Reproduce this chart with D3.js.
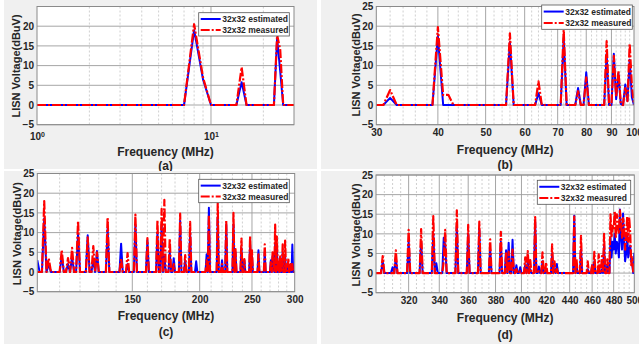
<!DOCTYPE html>
<html>
<head>
<meta charset="utf-8">
<script src="https://cdn.jsdelivr.net/npm/d3@7"></script>
<style>
  html, body { margin: 0; padding: 0; background: #fff; }
  svg text { font-family: "Liberation Sans", Arial, sans-serif; font-weight: bold; }
</style>
</head>
<body>
<svg id="fig" width="639" height="344"></svg>
<script>
// ---- data (MHz, dBuV); all other integer MHz points sit at 0 ----
const seriesNames = ['32x32 estimated', '32x32 measured'];
const yTicks = [-5, 0, 5, 10, 15, 20, 25];

// (a) 1-30 MHz
const aFreq = [8, 9, 15, 24, 25];
const aEst  = [19, 6.5, 5.8, 17, 8.5];
const aMeas = [20.5, 7, 9.6, 17.8, 14];
const aTicks = [1, 10];
const aMajor = [10];
const aMinor = [2, 3, 4, 5, 6, 7, 8, 9, 20];

// (b) 30-100 MHz
const bFreq = [32, 40, 41, 42, 56, 64, 72, 77, 80, 88, 91, 92, 93, 94, 96, 97, 98, 99];
const bEst  = [1.8, 17.5, 0, 0, 16, 3, 17, 4.3, 8.3, 13, 13, 1.5, 8, 0.3, 5.2, 1, 11.5, 2];
const bMeas = [3.8, 19.8, 2.5, 2.6, 18.2, 6, 19, 3.5, 7, 16.2, 12.5, 2, 8.7, 0.3, 4.3, 1, 15.6, 5];
const bTicks = [30, 40, 50, 60, 70, 80, 90, 100];
const bMajor = [40, 50, 60, 70, 80, 90];
const bMinor = [32, 34, 36, 38, 42, 44, 46, 48, 52, 54, 56, 58, 62, 64, 66, 68,
                72, 74, 76, 78, 82, 84, 86, 88, 92, 94, 96, 98];

// (c) 100-300 MHz
const cFreq = [100, 103, 105, 111, 114, 116, 119, 124, 127, 129, 135, 143, 147, 152, 160, 167, 170,
               172, 176, 179, 184, 188, 192, 197, 206, 208, 216, 220, 224, 231, 233, 239, 242, 248,
               250, 257, 264, 271, 273, 274, 276, 278, 280, 282, 285, 288, 292, 295, 297];
const cEst  = [3, 13.6, 2, 4, 2, 3.8, 9.5, 9.3, 3, 5.3, 11, 7.2, 2, 12, 8, 10, 12,
               4, 5, 3.5, 13, 3, 10, 2.7, 4.5, 16.3, 14, 3, 12, 12, 5, 6, 3, 7,
               4, 5.5, 5, 3, 4, 2, 7, 6, 2, 3.5, 5, 4, 2, 2, 7];
const cMeas = [0, 18, 3.5, 5.6, 3.5, 6.1, 13, 8.8, 6.6, 5, 13.8, 3.5, 4.8, 14.6, 8.6, 13.2, 16,
               18.3, 8.5, 2, 14.8, 4.3, 12.7, 0, 3, 14.5, 17.5, 2, 13, 15, 5.8, 8.5, 3.3, 9,
               5.5, 4.5, 7, 2.5, 5, 3, 12, 9, 3, 4, 7, 8, 3.5, 2, 2];
const cTicks = [150, 200, 250, 300];
const cMajor = [150, 200, 250];
const cMinor = [110, 120, 130, 140, 160, 170, 180, 190, 210, 220, 230, 240, 260, 270, 280, 290];

// (d) 300-500 MHz
const dFreq = [304, 310, 312, 320, 328, 336, 338, 343, 344, 352, 360, 368, 376, 384, 388, 390, 393,
               396, 399, 403, 405, 407, 411, 414, 417, 420, 425, 427, 429, 444, 446, 450, 456, 460,
               462, 466, 469, 471, 474, 477, 478, 479, 480, 481, 482, 483, 484, 485, 486, 487, 488,
               489, 490, 491, 492, 493, 494, 495, 496, 497, 498, 500];
const dEst  = [3, 1.5, 4, 8, 8, 10, 2.5, 9, 7, 12, 10, 11, 6, 8, 5.8, 7.7, 8.5,
               2, 1.5, 2, 3, 1, 13, 1.7, 3, 1, 5, 1, 2.3, 14.6, 2, 6, 1, 2,
               3, 1.5, 1, 7, 2, 9, 4, 8, 6, 10, 5, 8, 7, 4, 16.2, 9, 6,
               15.2, 8, 3, 5, 10, 4, 6, 7, 3, 2, 5.2];
const dMeas = [4.3, 0, 5.8, 11, 11.2, 14.5, 0, 3, 11, 16, 12.3, 13.1, 8.6, 10.5, 5, 5.5, 6,
               1, 0.5, 4, 5.6, 3.3, 14.3, 0.5, 5.3, 2.7, 7.3, 3, 1, 14.4, 3.5, 9.5, 3, 2,
               5.4, 4.8, 4.3, 10, 3.5, 15, 9, 12, 11, 15.8, 9, 15, 12, 10, 16, 13, 9,
               14, 12, 6, 9, 14.3, 8, 14.2, 10, 2, 4, 0];
const dTicks = [320, 340, 360, 380, 400, 420, 440, 460, 480, 500];
const dMajor = [320, 340, 360, 380, 400, 420, 440, 460, 480];
const dMinor = [305, 310, 315, 325, 330, 335, 345, 350, 355, 365, 370, 375, 385, 390, 395,
                405, 410, 415, 425, 430, 435, 445, 450, 455, 465, 470, 475, 485, 490, 495];

// ---- layout ----
const panels = [
  { cap: '(a)', span: [1, 30], freq: aFreq, est: aEst, meas: aMeas, ticks: aTicks, major: aMajor, minor: aMinor,
    yt: [-5, 0, 5, 10, 15, 20], pow: true,
    bg: [4, 0, 313, 169], xr: [37, 294], yr: [124.7, 6.5], leg: [198.7, 12.7, 90.6, 23.3],
    yTitle: [16, 66], xTitle: 152, capY: 166 },
  { cap: '(b)', span: [30, 100], freq: bFreq, est: bEst, meas: bMeas, ticks: bTicks, major: bMajor, minor: bMinor,
    yt: yTicks, pow: false,
    bg: [321, 0, 318, 169], xr: [376.3, 634], yr: [124.7, 6.5], leg: [541.7, 5, 90.6, 24.3],
    yTitle: [356.5, 65], xTitle: 150, capY: 164.5 },
  { cap: '(c)', span: [100, 300], freq: cFreq, est: cEst, meas: cMeas, ticks: cTicks, major: cMajor, minor: cMinor,
    yt: yTicks, pow: false,
    bg: [4, 171, 313, 173], xr: [37.3, 294.7], yr: [291.7, 173.5], leg: [198.7, 179.3, 90.6, 23.4],
    yTitle: [17.5, 233.7], xTitle: 316, capY: 332 },
  { cap: '(d)', span: [300, 500], freq: dFreq, est: dEst, meas: dMeas, ticks: dTicks, major: dMajor, minor: dMinor,
    yt: yTicks, pow: false,
    bg: [321, 171, 318, 173], xr: [376, 634.3], yr: [292.7, 175], leg: [537.3, 180.3, 93.4, 24],
    yTitle: [356.5, 235], xTitle: 317.7, capY: 334.3 }
];

const TXT = '#262626';
const RED_DASH = '9,2,2,2';
const svg = d3.select('#fig');

// spectrum on a 1 MHz grid, zero where nothing was read
function spectrum(span, freq, vals) {
  const pts = [];
  for (let f = span[0]; f <= span[1]; f++) {
    const i = freq.indexOf(f);
    pts.push([f, i < 0 ? 0 : vals[i]]);
  }
  return pts;
}

panels.forEach((p, k) => {
  const g = svg.append('g');
  g.append('rect').attr('x', p.bg[0]).attr('y', p.bg[1]).attr('width', p.bg[2]).attr('height', p.bg[3])
    .attr('fill', '#f0f0f0');

  const x = d3.scaleLog().domain(p.span).range(p.xr);
  const y = d3.scaleLinear().domain([-5, 25]).range(p.yr);
  const top = p.yr[1], bot = p.yr[0], left = p.xr[0], right = p.xr[1];

  g.append('rect').attr('x', left).attr('y', top).attr('width', right - left).attr('height', bot - top)
    .attr('fill', '#fff');

  // grid
  g.selectAll(null).data(p.minor).join('line')
    .attr('x1', d => x(d)).attr('x2', d => x(d)).attr('y1', top).attr('y2', bot)
    .attr('stroke', '#c4c4c4').attr('stroke-width', 0.8).attr('stroke-dasharray', '2,2');
  g.selectAll(null).data(p.major).join('line')
    .attr('x1', d => x(d)).attr('x2', d => x(d)).attr('y1', top).attr('y2', bot)
    .attr('stroke', '#9c9c9c').attr('stroke-width', 0.9);
  g.selectAll(null).data(yTicks).join('line')
    .attr('x1', left).attr('x2', right).attr('y1', d => y(d)).attr('y2', d => y(d))
    .attr('stroke', '#9c9c9c').attr('stroke-width', 0.9);

  // curves
  const clipId = 'clip' + k;
  g.append('clipPath').attr('id', clipId).append('rect')
    .attr('x', left).attr('y', top).attr('width', right - left).attr('height', bot - top);
  const line = d3.line().x(d => x(d[0])).y(d => y(d[1]));
  const plot = g.append('g').attr('clip-path', `url(#${clipId})`);
  plot.append('path').datum(spectrum(p.span, p.freq, p.est)).attr('d', line)
    .attr('fill', 'none').attr('stroke', '#0000ff').attr('stroke-width', 2).attr('stroke-linejoin', 'round');
  plot.append('path').datum(spectrum(p.span, p.freq, p.meas)).attr('d', line)
    .attr('fill', 'none').attr('stroke', '#ff0000').attr('stroke-width', 2.2)
    .attr('stroke-dasharray', RED_DASH).attr('stroke-linejoin', 'round');

  g.append('rect').attr('x', left).attr('y', top).attr('width', right - left).attr('height', bot - top)
    .attr('fill', 'none').attr('stroke', '#8a8a8a').attr('stroke-width', 1);

  // axes labels
  const xa = g.append('g').attr('transform', `translate(0,${bot})`)
    .call(d3.axisBottom(x).tickValues(p.ticks).tickSize(0).tickPadding(p.pow ? 8 : 4.5).tickFormat(d3.format('d')));
  const ya = g.append('g').attr('transform', `translate(${left},0)`)
    .call(d3.axisLeft(y).tickValues(p.yt).tickSize(0).tickPadding(3));
  [xa, ya].forEach(a => {
    a.select('.domain').remove();
    a.attr('font-family', null).attr('font-size', null);
    a.selectAll('text').attr('fill', TXT).style('font-size', '10px');
  });
  if (p.pow) {
    xa.selectAll('text').each(function (d) {
      const t = d3.select(this);
      t.text(null);
      t.append('tspan').text('10');
      t.append('tspan').attr('dy', '-0.45em').style('font-size', '7px').text(Math.round(Math.log10(d)));
    });
  }

  const cx = (left + right) / 2;
  g.append('text').attr('transform', `translate(${p.yTitle[0]},${p.yTitle[1]}) rotate(-90)`)
    .attr('text-anchor', 'middle').attr('dy', '0.35em').attr('fill', TXT).style('font-size', '11px')
    .text('LISN Voltage(dBuV)');
  g.append('text').attr('x', cx).attr('y', p.xTitle).attr('dy', '0.35em').attr('text-anchor', 'middle')
    .attr('fill', TXT).style('font-size', '12px').text('Frequency (MHz)');
  g.append('text').attr('x', cx).attr('y', p.capY).attr('dy', '0.35em').attr('text-anchor', 'middle')
    .attr('fill', TXT).style('font-size', '12px').text(p.cap);

  // legend
  const lg = g.append('g').attr('transform', `translate(${p.leg[0]},${p.leg[1]})`);
  lg.append('rect').attr('width', p.leg[2]).attr('height', p.leg[3])
    .attr('fill', '#fff').attr('stroke', '#555').attr('stroke-width', 0.8);
  const rows = [p.leg[3] * 0.27, p.leg[3] * 0.74];
  const styles = [{ c: '#0000ff', dash: null }, { c: '#ff0000', dash: RED_DASH }];
  seriesNames.forEach((name, i) => {
    lg.append('line').attr('x1', 2).attr('x2', 22).attr('y1', rows[i]).attr('y2', rows[i])
      .attr('stroke', styles[i].c).attr('stroke-width', 2).attr('stroke-dasharray', styles[i].dash);
    lg.append('text').attr('x', 23.5).attr('y', rows[i]).attr('dy', '0.35em')
      .attr('fill', TXT).style('font-size', '8.5px').text(name);
  });
});
</script>
</body>
</html>
